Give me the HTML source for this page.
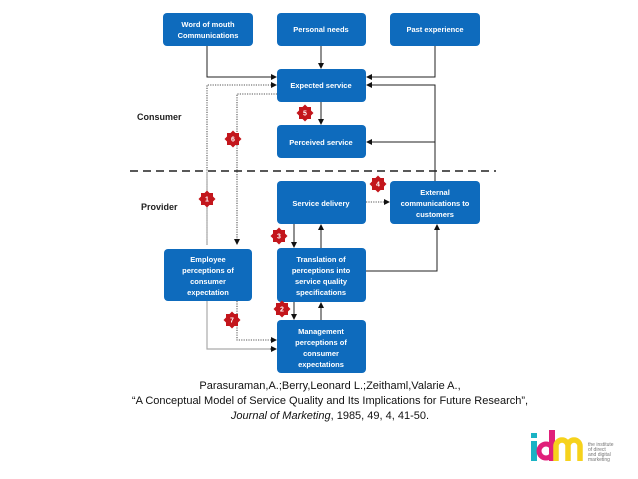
<!DOCTYPE html>
<html><head><meta charset="utf-8"><style>
html,body{margin:0;padding:0;background:#fff;}
svg{display:block;}
.b{fill:#0e6bbd;}
.t{font-family:"Liberation Sans",sans-serif;font-size:7.5px;font-weight:bold;fill:#fff;text-anchor:middle;}
.s{stroke:#222;stroke-width:1;fill:none;}
.d{stroke:#555;stroke-width:1.1;fill:none;stroke-dasharray:1.2,1.2;}
.g{stroke:#aaa;stroke-width:1.2;fill:none;}
.lab{font-family:"Liberation Sans",sans-serif;font-size:9px;font-weight:bold;fill:#222;}
.c{font-family:"Liberation Sans",sans-serif;font-size:11px;fill:#111;text-anchor:middle;}
.st{fill:#c3161c;}
.sn{font-family:"Liberation Sans",sans-serif;font-size:7px;font-weight:bold;fill:#fff;text-anchor:middle;}
</style></head><body>
<svg width="638" height="479" viewBox="0 0 638 479">
<defs>
<marker id="a" markerWidth="6" markerHeight="6" refX="5" refY="3" orient="auto" markerUnits="userSpaceOnUse"><path d="M0,0 L6,3 L0,6 z" fill="#111"/></marker>
<g id="star"><rect x="-6" y="-6" width="12" height="12" class="st"/><rect x="-6" y="-6" width="12" height="12" class="st" transform="rotate(45)"/></g>
</defs>

<!-- lines -->
<path class="s" d="M207,46 V77 H276" marker-end="url(#a)"/>
<path class="s" d="M321,46 V68" marker-end="url(#a)"/>
<path class="s" d="M435,46 V77 H367" marker-end="url(#a)"/>
<path class="s" d="M435,181 V85 H367" marker-end="url(#a)"/>
<path class="s" d="M435,142 H367" marker-end="url(#a)"/>
<path class="s" d="M321,102 V124" marker-end="url(#a)"/>
<path class="d" d="M207,245 V85 H276" marker-end="url(#a)"/>
<path class="g" d="M207,245 V172"/>
<path class="d" d="M277,94 H237 V244" marker-end="url(#a)"/>
<path class="d" d="M366,202 H389" marker-end="url(#a)"/>
<path class="s" d="M294,224 V247" marker-end="url(#a)"/>
<path class="s" d="M321,248 V225" marker-end="url(#a)"/>
<path class="s" d="M366,271 H437 V225" marker-end="url(#a)"/>
<path class="s" d="M294,302 V319" marker-end="url(#a)"/>
<path class="s" d="M321,320 V303" marker-end="url(#a)"/>
<path class="g" d="M207,301 V349 H270"/>
<path class="s" d="M270,349 H276" marker-end="url(#a)"/>
<path class="d" d="M237,301 V340 H276" marker-end="url(#a)"/>

<line x1="130" y1="171" x2="496" y2="171" stroke="#222" stroke-width="1.5" stroke-dasharray="8,5"/>
<text class="lab" x="137" y="120">Consumer</text>
<text class="lab" x="141" y="210">Provider</text>

<!-- boxes -->
<rect class="b" x="163" y="13" width="90" height="33" rx="4"/>
<text class="t" x="208" y="27">Word of mouth</text><text class="t" x="208" y="38">Communications</text>
<rect class="b" x="277" y="13" width="89" height="33" rx="4"/>
<text class="t" x="321" y="32">Personal needs</text>
<rect class="b" x="390" y="13" width="90" height="33" rx="4"/>
<text class="t" x="435" y="32">Past experience</text>
<rect class="b" x="277" y="69" width="89" height="33" rx="4"/>
<text class="t" x="321" y="88">Expected service</text>
<rect class="b" x="277" y="125" width="89" height="33" rx="4"/>
<text class="t" x="321" y="145">Perceived service</text>
<rect class="b" x="277" y="181" width="89" height="43" rx="4"/>
<text class="t" x="321" y="206">Service delivery</text>
<rect class="b" x="390" y="181" width="90" height="43" rx="4"/>
<text class="t" x="435" y="195">External</text><text class="t" x="435" y="206">communications to</text><text class="t" x="435" y="217">customers</text>
<rect class="b" x="164" y="249" width="88" height="52" rx="4"/>
<text class="t" x="208" y="262">Employee</text><text class="t" x="208" y="273">perceptions of</text><text class="t" x="208" y="284">consumer</text><text class="t" x="208" y="295">expectation</text>
<rect class="b" x="277" y="248" width="89" height="54" rx="4"/>
<text class="t" x="321" y="262">Translation of</text><text class="t" x="321" y="273">perceptions into</text><text class="t" x="321" y="284">service  quality</text><text class="t" x="321" y="295">specifications</text>
<rect class="b" x="277" y="320" width="89" height="53" rx="4"/>
<text class="t" x="321" y="334">Management</text><text class="t" x="321" y="345">perceptions of</text><text class="t" x="321" y="356">consumer</text><text class="t" x="321" y="367">expectations</text>

<!-- stars -->
<g transform="translate(207,199)"><use href="#star"/><text class="sn" y="2.5">1</text></g>
<g transform="translate(282,309)"><use href="#star"/><text class="sn" y="2.5">2</text></g>
<g transform="translate(279,236)"><use href="#star"/><text class="sn" y="2.5">3</text></g>
<g transform="translate(378,184)"><use href="#star"/><text class="sn" y="2.5">4</text></g>
<g transform="translate(305,113)"><use href="#star"/><text class="sn" y="2.5">5</text></g>
<g transform="translate(233,139)"><use href="#star"/><text class="sn" y="2.5">6</text></g>
<g transform="translate(232,320)"><use href="#star"/><text class="sn" y="2.5">7</text></g>

<!-- citation -->
<text class="c" x="330" y="389">Parasuraman,A.;Berry,Leonard L.;Zeithaml,Valarie A.,</text>
<text class="c" x="330" y="404">“A Conceptual Model of Service Quality and Its Implications for Future Research”,</text>
<text class="c" x="330" y="419"><tspan font-style="italic">Journal of Marketing</tspan>, 1985, 49, 4, 41-50.</text>

<!-- logo -->
<rect x="531" y="433" width="6" height="5" fill="#19b3c4"/>
<rect x="531" y="441" width="6" height="20" fill="#19b3c4"/>
<circle cx="546" cy="451" r="7" fill="none" stroke="#e0207a" stroke-width="5"/>
<rect x="549" y="430" width="6" height="31" fill="#e0207a"/>
<path d="M556,461 V446 a5,5 0 0 1 12,0 V461 M568,446 a5,5 0 0 1 12,0 V461" fill="none" stroke="#f6d21c" stroke-width="5.5"/>
<text x="588" y="446" font-family="Liberation Sans,sans-serif" font-size="5" fill="#777">the institute</text>
<text x="588" y="451" font-family="Liberation Sans,sans-serif" font-size="5" fill="#777">of direct</text>
<text x="588" y="456" font-family="Liberation Sans,sans-serif" font-size="5" fill="#777">and digital</text>
<text x="588" y="461" font-family="Liberation Sans,sans-serif" font-size="5" fill="#777">marketing</text>
</svg>
</body></html>
